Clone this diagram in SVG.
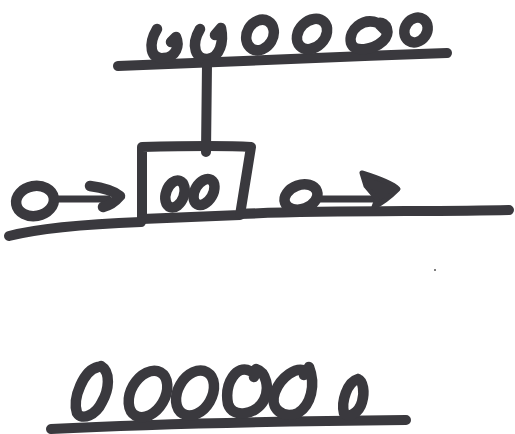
<svg xmlns="http://www.w3.org/2000/svg" width="515" height="434" viewBox="0 0 515 434">
<style>
.ink{fill:none;stroke:#3a393e;stroke-linecap:round;stroke-linejoin:round}
.line{stroke-width:10}
.loop{stroke-width:10.5}
.thin{stroke-width:7}
</style>
<rect width="515" height="434" fill="#ffffff"/>
<g id="top-rail">
<path class="ink line" d="M118,66 C200,63 330,57 447,53"/>
<path class="ink loop" d="M157,29 C148,44 150,60 164,58 C176,57 180,46 176,37 L171,42"/>
<path class="ink loop" d="M200,29 C190,46 196,60 208,59 C220,57 224,42 221,28 L215,35"/>
<ellipse class="ink loop" cx="260" cy="35" rx="13" ry="16" transform="rotate(30 260 35)"/>
<ellipse class="ink loop" cx="312" cy="34" rx="13" ry="17" transform="rotate(45 312 34)"/>
<path class="ink loop" d="M378,23 C363,17 348,30 351,43 C354,53 373,50 383,41 C391,33 387,21 378,23 L385,30"/>
<ellipse class="ink loop" cx="416" cy="30" rx="11" ry="13" transform="rotate(35 416 30)"/>
</g>
<g id="connectors">
<path class="ink line" d="M207,64 L206,152"/>
</g>
<g id="box">
<path class="ink line" d="M142,147 L142,219 L240,215 L251,147 C220,145 180,146 142,147"/>
<ellipse class="ink loop" cx="175" cy="194" rx="9" ry="14" transform="rotate(20 175 194)"/>
<ellipse class="ink loop" cx="204" cy="192" rx="9" ry="14" transform="rotate(30 204 192)"/>
</g>
<g id="ground">
<path class="ink line" d="M9,236 C40,228 90,224 141,222"/>
<path class="ink line" d="M240,214 C330,210 430,212 509,210"/>
</g>
<g id="left-arrow">
<ellipse class="ink loop" cx="35" cy="201" rx="19" ry="15" transform="rotate(-10 35 201)"/>
<path class="ink thin" d="M54,199 L108,199"/>
<path class="ink loop" d="M90,186 C105,188 115,192 120,196 C115,202 108,206 103,207"/>
</g>
<g id="right-arrow">
<ellipse class="ink loop" cx="301" cy="197" rx="17" ry="12" transform="rotate(-20 301 197)"/>
<path class="ink thin" d="M318,199 L378,199"/>
<path fill="#3a393e" stroke="#3a393e" stroke-width="5" stroke-linejoin="round" d="M362,173 C378,178 392,183 398,189 C390,197 382,203 374,207 L377,199 L366,186 Z"/>
</g>
<g id="bottom-rail">
<path class="ink line" d="M51,429 C150,424 300,421 406,420"/>
<path class="ink loop" d="M98,367 C84,370 72,398 77,413 C82,421 96,415 102,402 C109,390 111,372 101,366"/>
<ellipse class="ink loop" cx="148" cy="394" rx="17" ry="25" transform="rotate(30 148 394)"/>
<ellipse class="ink loop" cx="195" cy="393" rx="17" ry="24" transform="rotate(30 195 393)"/>
<path class="ink loop" d="M250,371 C237,364 224,383 228,404 C233,419 256,415 264,400 C270,388 266,372 256,369 L254,377"/>
<path class="ink loop" d="M306,371 C296,366 281,377 275,392 C269,409 283,419 298,413 C311,405 316,385 309,367 L304,375"/>
<path class="ink loop" d="M358,379 C347,382 341,402 344,413 C348,419 359,413 362,402 C365,392 363,381 358,379"/>
</g>
<circle cx="435" cy="270" r="1" fill="#555"/>
</svg>
